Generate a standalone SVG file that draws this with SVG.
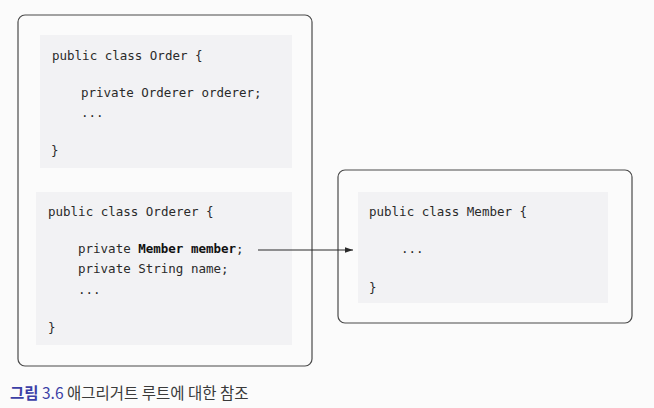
<svg xmlns="http://www.w3.org/2000/svg" width="654" height="408" viewBox="0 0 654 408">
  <defs>
    <style>
      .frame { fill: #fbfbfb; stroke: #4a4a4a; stroke-width: 1.2; }
      .code-bg { fill: #f2f2f4; stroke: none; }
      .code { font-family: "DejaVu Sans Mono", "Liberation Mono", monospace; font-size: 12.5px; fill: #2a2a2a; }
      .bold { font-weight: bold; fill: #111; }
      .cap { font-family: "Noto Sans CJK KR", "Noto Sans", sans-serif; font-size: 15.5px; fill: #3a3a3a; }
      .cap-b { fill: #3c3fa6; font-weight: bold; }
      .cap-n { fill: #3c3fa6; }
      .conn { stroke: #2a2a2a; stroke-width: 1; fill: none; }
    </style>
    <marker id="arrow" viewBox="0 0 10 10" refX="10" refY="5" markerWidth="8" markerHeight="8" markerUnits="userSpaceOnUse" orient="auto">
      <path d="M0,1.5 L10,5 L0,8.5 z" fill="#2a2a2a"/>
    </marker>
  </defs>
  <rect x="0" y="0" width="654" height="408" fill="#fbfbfb"/>

  <g id="aggregate">
    <rect class="frame" x="18" y="15" width="294" height="351" rx="7"/>
  </g>

  <g id="order">
    <rect class="code-bg" x="40" y="35" width="252" height="133"/>
    <text class="code" x="52" y="60">public class Order {</text>
    <text class="code" x="81" y="97">private Orderer orderer;</text>
    <text class="code" x="81" y="117">...</text>
    <text class="code" x="51" y="155">}</text>
  </g>

  <g id="orderer">
    <rect class="code-bg" x="36" y="192" width="256" height="153"/>
    <text class="code" x="48" y="216">public class Orderer {</text>
    <text class="code" x="78" y="253">private <tspan class="bold">Member member</tspan>;</text>
    <text class="code" x="78" y="273">private String name;</text>
    <text class="code" x="78" y="294">...</text>
    <text class="code" x="48" y="332">}</text>
  </g>

  <g id="member">
    <rect class="frame" x="338" y="170" width="294" height="153" rx="7"/>
    <rect class="code-bg" x="358" y="192" width="250" height="111"/>
    <text class="code" x="369" y="216">public class Member {</text>
    <text class="code" x="401" y="253">...</text>
    <text class="code" x="369" y="292">}</text>
  </g>

  <g id="connectors">
    <line class="conn" x1="258" y1="250" x2="353" y2="250" marker-end="url(#arrow)"/>
  </g>

  <g id="caption">
    <text class="cap" x="10" y="399"><tspan class="cap-b">그림</tspan><tspan class="cap-n"> 3.6</tspan> 애그리거트 루트에 대한 참조</text>
  </g>
</svg>
